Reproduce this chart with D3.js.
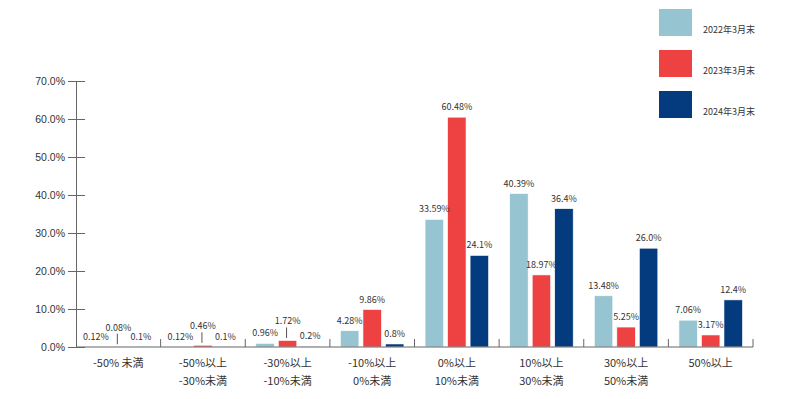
<!DOCTYPE html>
<html>
<head>
<meta charset="utf-8">
<script src="https://cdn.jsdelivr.net/npm/d3@7"></script>
<style>
  body { margin: 0; background: #fff; }
  svg { font-family: "Noto Sans CJK JP", "Noto Sans", sans-serif; }
  .tick text { fill: #333; }
</style>
</head>
<body>
<div id="chart"></div>
<script>
// categories (two label lines each)
var categories = ["-50% 未満", "-50%以上|-30%未満", "-30%以上|-10%未満", "-10%以上|0%未満",
                  "0%以上|10%未満", "10%以上|30%未満", "30%以上|50%未満", "50%以上"];
var seriesNames = ["2022年3月末", "2023年3月末", "2024年3月末"];
var seriesColors = ["#96c5d1", "#ee4242", "#033b7e"];

var values2022 = [0.12, 0.12, 0.96, 4.28, 33.59, 40.39, 13.48, 7.06];
var values2023 = [0.08, 0.46, 1.72, 9.86, 60.48, 18.97, 5.25, 3.17];
var values2024 = [0.1, 0.1, 0.2, 0.8, 24.1, 36.4, 26.0, 12.4];
var labels2022 = ["0.12%", "0.12%", "0.96%", "4.28%", "33.59%", "40.39%", "13.48%", "7.06%"];
var labels2023 = ["0.08%", "0.46%", "1.72%", "9.86%", "60.48%", "18.97%", "5.25%", "3.17%"];
var labels2024 = ["0.1%", "0.1%", "0.2%", "0.8%", "24.1%", "36.4%", "26.0%", "12.4%"];
// labels lifted with a leader line (category index, series index)
var callouts = [[0, 1], [1, 1], [2, 1]];

var yTicks = [0, 10, 20, 30, 40, 50, 60, 70];

var width = 800, height = 399;
var margin = {top: 81, left: 76, right: 47, bottom: 52};

var svg = d3.select("#chart").append("svg")
    .attr("width", width)
    .attr("height", height);

var x = d3.scaleBand()
    .domain(d3.range(categories.length))
    .range([margin.left, width - margin.right])
    .paddingInner(0).paddingOuter(0);

var y = d3.scaleLinear()
    .domain([0, 70])
    .range([height - margin.bottom, margin.top]);

var xs = d3.scaleBand()
    .domain([0, 1, 2])
    .range([-31.75, 31.75])
    .paddingInner(0.18);

var allValues = [values2022, values2023, values2024];
var allLabels = [labels2022, labels2023, labels2024];

var rows = [];
categories.forEach(function (c, i) {
    allValues.forEach(function (vals, s) {
        var isCallout = callouts.some(function (p) { return p[0] == i && p[1] == s; });
        rows.push({cat: i, s: s, v: vals[i], label: allLabels[s][i], callout: isCallout});
    });
});

function barX(d) {
    return x(d.cat) + x.bandwidth() / 2 + xs(d.s);
}

// y axis
var yAxis = d3.axisLeft(y)
    .tickValues(yTicks)
    .tickFormat(function (d) { return d.toFixed(1) + "%"; })
    .tickSizeInner(8)
    .tickSizeOuter(0)
    .tickPadding(3);

var gy = svg.append("g")
    .attr("transform", "translate(" + margin.left + ",0)")
    .call(yAxis);
gy.select(".domain").attr("stroke", "#666");
gy.selectAll(".tick line").attr("x2", 9).attr("x1", -8).attr("stroke", "#666");
gy.selectAll(".tick text").attr("font-size", "10.5px").attr("x", -11);

// bars
svg.append("g").selectAll("rect")
    .data(rows)
    .enter().append("rect")
    .attr("x", barX)
    .attr("width", xs.bandwidth())
    .attr("y", function (d) { return y(d.v); })
    .attr("height", function (d) { return y(0) - y(d.v); })
    .attr("fill", function (d) { return seriesColors[d.s]; })
    .attr("stroke", "#fff")
    .attr("stroke-width", 0.6);

// x axis line and boundary ticks
var gx = svg.append("g");
gx.append("line")
    .attr("x1", margin.left).attr("x2", width - margin.right)
    .attr("y1", y(0)).attr("y2", y(0))
    .attr("stroke", "#666");
gx.selectAll("line.bound")
    .data(d3.range(1, categories.length + 1))
    .enter().append("line")
    .attr("class", "bound")
    .attr("x1", function (i) { return i < categories.length ? x(i) : x(i - 1) + x.bandwidth(); })
    .attr("x2", function (i) { return i < categories.length ? x(i) : x(i - 1) + x.bandwidth(); })
    .attr("y1", y(0)).attr("y2", y(0) - 8)
    .attr("stroke", "#666");

// category labels
var catLabels = svg.append("g").selectAll("text")
    .data(categories)
    .enter().append("text")
    .attr("text-anchor", "middle")
    .attr("font-size", "11px")
    .attr("fill", "#333")
    .attr("transform", function (d, i) {
        return "translate(" + (x(i) + x.bandwidth() / 2) + "," + (y(0) + 20) + ")";
    });
catLabels.each(function (d) {
    var t = d3.select(this);
    d.split("|").forEach(function (line, k) {
        t.append("tspan").attr("x", 0).attr("y", k * 18).text(line);
    });
});

// value labels
var lab = svg.append("g");
lab.selectAll("text")
    .data(rows)
    .enter().append("text")
    .attr("x", function (d) { return barX(d) + xs.bandwidth() / 2; })
    .attr("y", function (d) { return y(d.v) - (d.callout ? 16 : 7); })
    .attr("text-anchor", "middle")
    .attr("font-size", "9px")
    .attr("fill", "#333")
    .text(function (d) { return d.label; });

lab.selectAll("line")
    .data(rows.filter(function (d) { return d.callout; }))
    .enter().append("line")
    .attr("x1", function (d) { return barX(d) + xs.bandwidth() / 2 - 1; })
    .attr("x2", function (d) { return barX(d) + xs.bandwidth() / 2 - 1; })
    .attr("y1", function (d) { return y(d.v) - 13; })
    .attr("y2", function (d) { return y(d.v) - 2.5; })
    .attr("stroke", "#555")
    .attr("stroke-width", 1);

// legend
var legend = svg.append("g").attr("transform", "translate(659,9)");
var items = legend.selectAll("g")
    .data(seriesNames)
    .enter().append("g")
    .attr("transform", function (d, i) { return "translate(0," + (i * 41) + ")"; });
items.append("rect")
    .attr("width", 33).attr("height", 27)
    .attr("fill", function (d, i) { return seriesColors[i]; });
items.append("text")
    .attr("x", 44).attr("y", 24)
    .attr("font-size", "9px")
    .attr("fill", "#333")
    .text(function (d) { return d; });
</script>
</body>
</html>
